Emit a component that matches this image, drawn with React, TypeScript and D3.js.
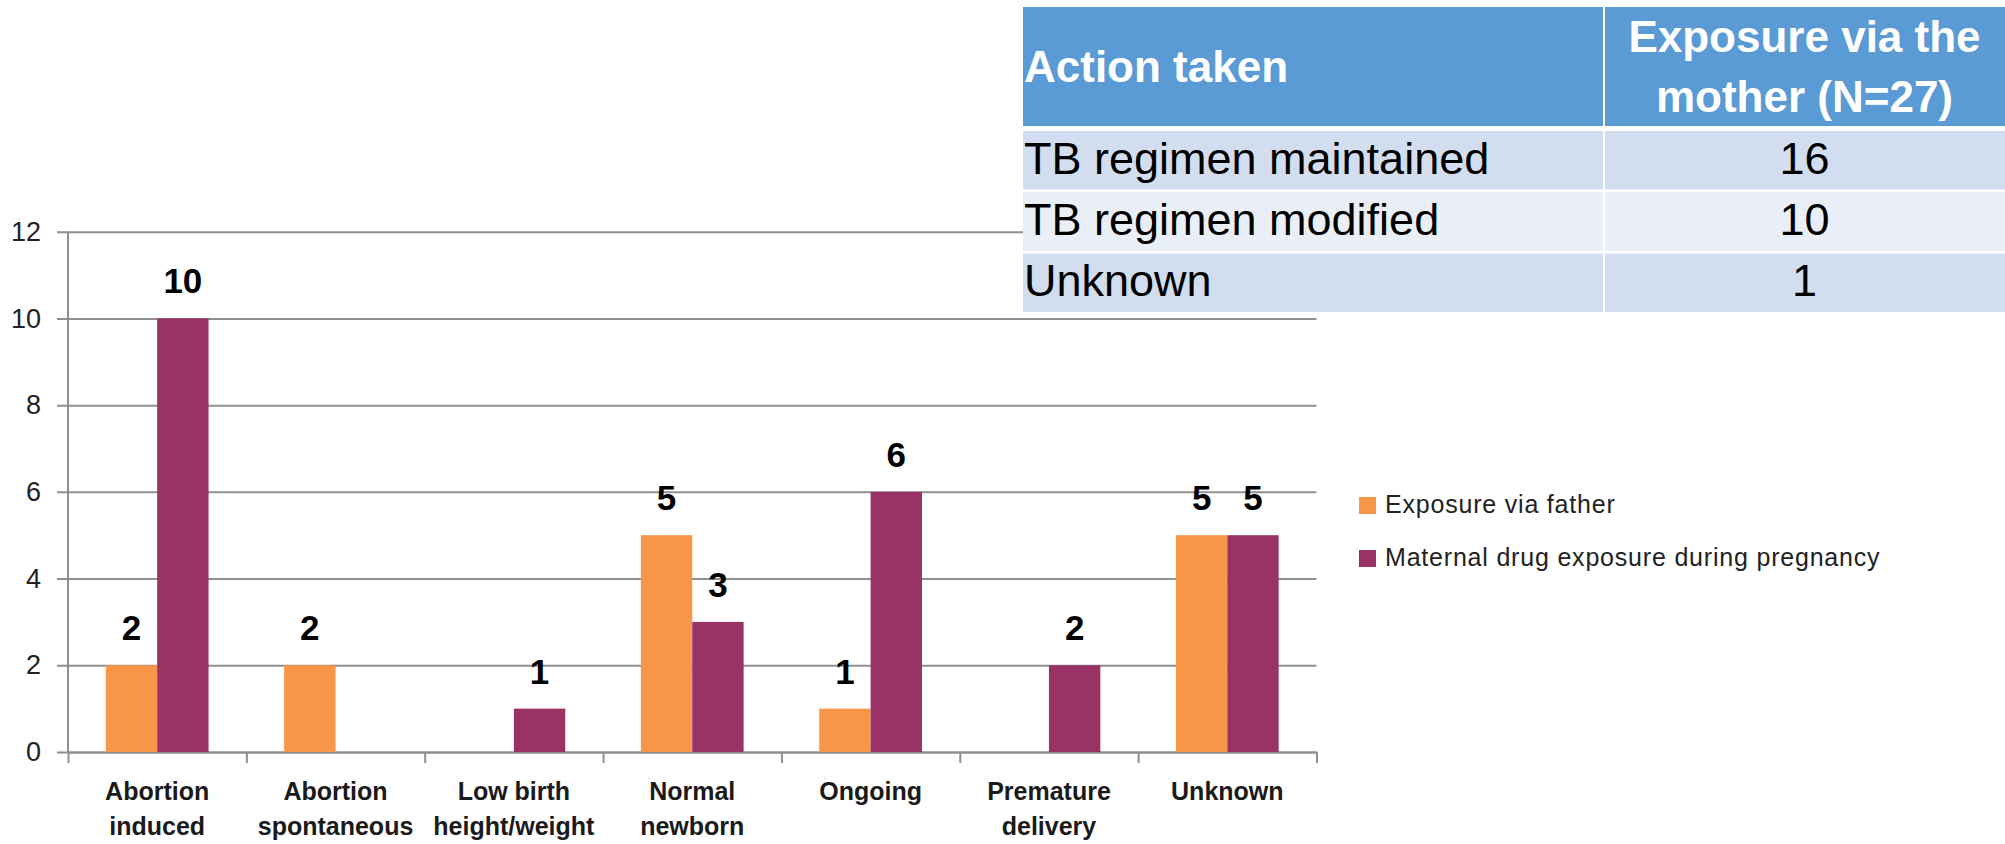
import { useEffect, useRef } from 'react';
import * as d3 from 'd3';

const categories = [
  ['Abortion', 'induced'],
  ['Abortion', 'spontaneous'],
  ['Low birth', 'height/weight'],
  ['Normal', 'newborn'],
  ['Ongoing'],
  ['Premature', 'delivery'],
  ['Unknown'],
];
const seriesNames = ['Exposure via father', 'Maternal drug exposure during pregnancy'];
const fatherValues = [2, 2, 0, 5, 1, 0, 5];
const maternalValues = [10, 0, 1, 3, 6, 2, 5];
const yTicks = [0, 2, 4, 6, 8, 10, 12];
const colors = ['#F79646', '#993366'];

const tableHeaders = ['Action taken', ['Exposure via the', 'mother (N=27)']];
const tableActions = ['TB regimen maintained', 'TB regimen modified', 'Unknown'];
const tableCounts = [16, 10, 1];

const W = 2005;
const H = 844;
const FONT = "'Liberation Sans', Arial, sans-serif";

const App = () => {
  const ref = useRef<SVGSVGElement>(null);

  useEffect(() => {
    document.body.style.margin = '0';
    const svg = d3.select(ref.current);
    svg.selectAll('*').remove();

    const margin = { top: 231.7, left: 68, bottom: 844 - 752, right: 2005 - 1316.5 };
    const innerW = W - margin.left - margin.right;
    const innerH = H - margin.top - margin.bottom;
    const g = svg.append('g').attr('transform', `translate(${margin.left},${margin.top})`);

    const keys = categories.map(c => c.join(' '));
    const x0 = d3.scaleBand().domain(keys).range([0, innerW]).paddingInner(0.424).paddingOuter(0.212);
    const x1 = d3.scaleBand().domain(['father', 'maternal']).range([0, x0.bandwidth()]);
    const y = d3.scaleLinear().domain([0, 12]).range([innerH, 0]);
    const xb = d3.scaleLinear().domain([0, categories.length]).range([0, innerW]);

    // y axis + gridlines
    const yAxis = g.append('g').call(
      d3.axisLeft(y).tickValues(yTicks).tickSize(-innerW).tickPadding(27)
    );
    yAxis.select('.domain').remove();
    yAxis.selectAll('.tick line').attr('x1', -11).attr('stroke', '#8f8f8f').attr('stroke-width', 2);
    yAxis.selectAll('.tick text')
      .attr('font-family', FONT).attr('font-size', 27).attr('fill', '#222');

    g.append('line')
      .attr('x1', 0).attr('x2', 0).attr('y1', 0).attr('y2', innerH)
      .attr('stroke', '#8f8f8f').attr('stroke-width', 2);

    // x axis with boundary ticks
    const xAxis = g.append('g').attr('transform', `translate(0,${innerH})`).call(
      d3.axisBottom(xb).tickValues(d3.range(categories.length + 1)).tickSize(11).tickSizeOuter(0).tickFormat(() => '')
    );
    xAxis.select('.domain').attr('stroke', '#8f8f8f').attr('stroke-width', 2);
    xAxis.selectAll('.tick line').attr('stroke', '#8f8f8f').attr('stroke-width', 2);

    // category labels
    categories.forEach((lines, i) => {
      const cx = x0(keys[i])! + x0.bandwidth() / 2;
      lines.forEach((t, j) => {
        g.append('text').text(t)
          .attr('x', cx).attr('y', innerH + 48 + j * 35)
          .attr('text-anchor', 'middle')
          .attr('font-family', FONT).attr('font-size', 25).attr('font-weight', 'bold')
          .attr('fill', '#1a1a1a');
      });
    });

    // bars
    const series = [
      { key: 'father', values: fatherValues, color: colors[0] },
      { key: 'maternal', values: maternalValues, color: colors[1] },
    ];
    series.forEach(s => {
      s.values.forEach((v, i) => {
        if (v === 0) return;
        const bx = x0(keys[i])! + x1(s.key)!;
        g.append('rect')
          .attr('x', bx).attr('y', y(v))
          .attr('width', x1.bandwidth()).attr('height', y(0) - y(v))
          .attr('fill', s.color);
        g.append('text').text(v)
          .attr('x', bx + x1.bandwidth() / 2).attr('y', y(v) - 25)
          .attr('text-anchor', 'middle')
          .attr('font-family', FONT).attr('font-size', 35).attr('font-weight', 'bold')
          .attr('fill', '#000');
      });
    });

    // legend
    const legend = svg.append('g').attr('transform', 'translate(1359,497)');
    seriesNames.forEach((name, i) => {
      legend.append('rect').attr('x', 0).attr('y', i * 53).attr('width', 17).attr('height', 17).attr('fill', colors[i]);
      legend.append('text').text(name)
        .attr('x', 26).attr('y', i * 53 + 16)
        .attr('font-family', FONT).attr('font-size', 25).attr('letter-spacing', 0.8)
        .attr('fill', '#222');
    });

    // table
    const tLeft = 1023;
    const tSplit = 1604;
    const tRight = W;
    const t = svg.append('g');
    t.append('rect').attr('x', tLeft).attr('y', 7).attr('width', tSplit - tLeft - 1).attr('height', 119).attr('fill', '#5B9BD5');
    t.append('rect').attr('x', tSplit + 1).attr('y', 7).attr('width', tRight - tSplit - 1).attr('height', 119).attr('fill', '#5B9BD5');
    t.append('text').text(tableHeaders[0] as string)
      .attr('x', tLeft + 1).attr('y', 82)
      .attr('font-family', FONT).attr('font-size', 44).attr('font-weight', 'bold').attr('fill', '#fff');
    (tableHeaders[1] as string[]).forEach((line, j) => {
      t.append('text').text(line)
        .attr('x', (tSplit + tRight) / 2).attr('y', 52 + j * 60)
        .attr('text-anchor', 'middle')
        .attr('font-family', FONT).attr('font-size', 44).attr('font-weight', 'bold').attr('fill', '#fff');
    });

    const rowY = d3.scaleBand().domain(tableActions).range([131, 312]).paddingInner(0.045);
    tableActions.forEach((a, i) => {
      const ry = rowY(a)!;
      const fill = i % 2 === 0 ? '#D2DEEF' : '#EAEFF7';
      t.append('rect').attr('x', tLeft).attr('y', ry).attr('width', tSplit - tLeft - 1).attr('height', rowY.bandwidth()).attr('fill', fill);
      t.append('rect').attr('x', tSplit + 1).attr('y', ry).attr('width', tRight - tSplit - 1).attr('height', rowY.bandwidth()).attr('fill', fill);
      t.append('text').text(a)
        .attr('x', tLeft + 1).attr('y', ry + rowY.bandwidth() / 2).attr('dy', '0.3em')
        .attr('font-family', FONT).attr('font-size', 45).attr('fill', '#000');
      t.append('text').text(tableCounts[i])
        .attr('x', (tSplit + tRight) / 2).attr('y', ry + rowY.bandwidth() / 2).attr('dy', '0.3em')
        .attr('text-anchor', 'middle')
        .attr('font-family', FONT).attr('font-size', 45).attr('fill', '#000');
    });
  }, []);

  return (
    <div>
      <svg ref={ref} width={W} height={H} style={{ display: 'block', background: '#fff' }} />
    </div>
  );
};

export default App;
